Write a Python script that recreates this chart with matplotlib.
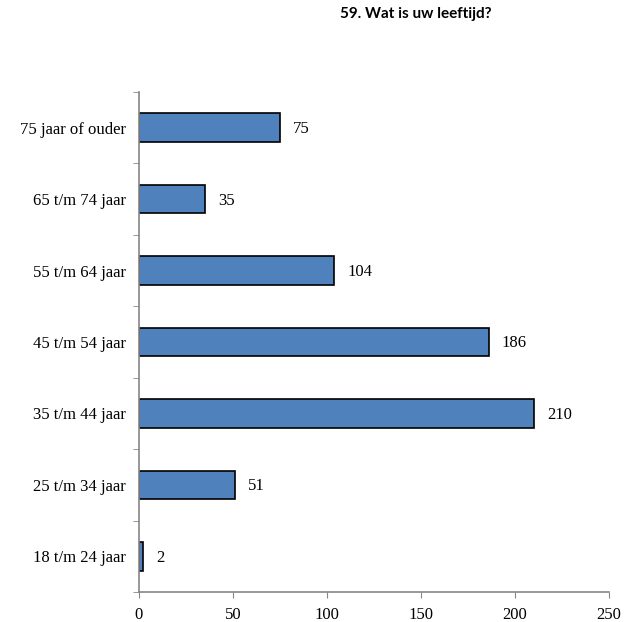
import matplotlib
matplotlib.use("Agg")
import matplotlib.pyplot as plt
import numpy as np

categories = ["18 t/m 24 jaar", "25 t/m 34 jaar", "35 t/m 44 jaar", "45 t/m 54 jaar",
              "55 t/m 64 jaar", "65 t/m 74 jaar", "75 jaar of ouder"]
counts = [2, 51, 210, 186, 104, 35, 75]
x_ticks = [0, 50, 100, 150, 200, 250]
title = "59. Wat is uw leeftijd?"

serif = ["Liberation Serif", "DejaVu Serif"]
axis_grey = "#868686"

fig = plt.figure(figsize=(6.39, 6.22), dpi=100)
ax = fig.add_axes([0.2175, 0.0482, 0.7355, 0.8039])

pos = np.arange(len(categories))
ax.barh(pos, counts, height=0.4, color="#4F81BD", edgecolor="black", linewidth=1.2)

for y, v in zip(pos, counts):
    ax.annotate(str(v), (v, y), xytext=(9.5, -1), textcoords="offset points",
                ha="left", va="center", fontsize=12, family=serif)

ax.set_xlim(0, 250)
ax.set_ylim(-0.5, len(categories) - 0.5)

ax.set_xticks(x_ticks)
ax.set_xticklabels([str(t) for t in x_ticks], fontsize=12, family=serif)
ax.set_yticks(pos)
ax.set_yticklabels(categories, fontsize=12, family=serif)
ax.set_yticks(np.arange(-0.5, len(categories)), minor=True)

ax.tick_params(axis="y", which="major", length=0, pad=9.5)
ax.tick_params(axis="y", which="minor", length=4, color=axis_grey, direction="out")
ax.tick_params(axis="x", which="major", length=4, color=axis_grey, direction="out", pad=7)

for side in ("top", "right"):
    ax.spines[side].set_visible(False)
for side in ("left", "bottom"):
    ax.spines[side].set_color(axis_grey)
    ax.spines[side].set_linewidth(1.2)

fig.text(0.651, 0.977, title, ha="center", va="center", fontsize=11,
         fontweight="bold", family=["Lato", "DejaVu Sans"])

fig.savefig("out.png", dpi=100)
